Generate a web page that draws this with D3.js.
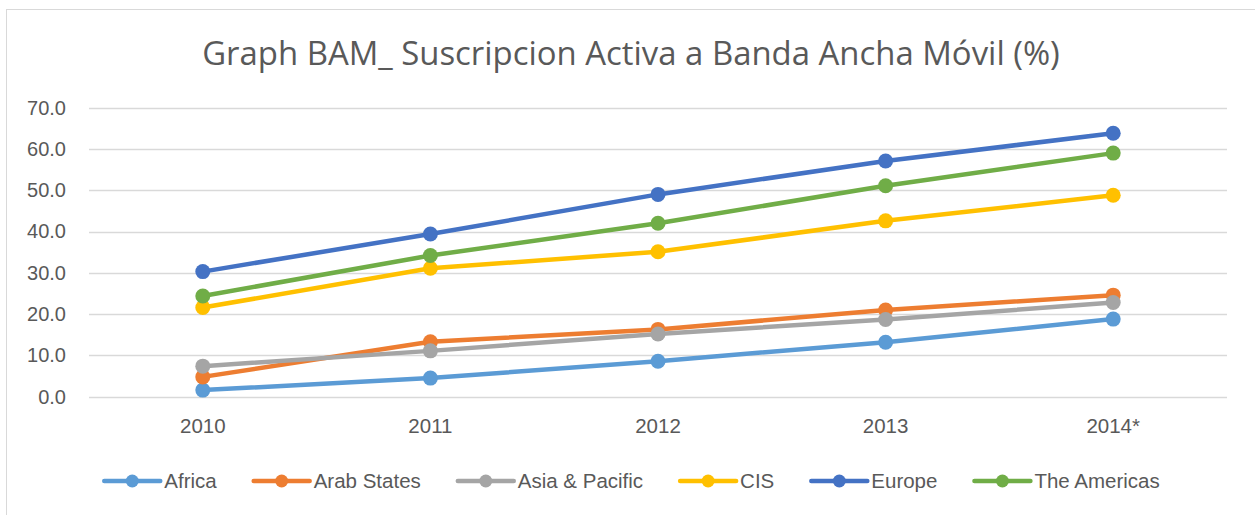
<!DOCTYPE html>
<html><head><meta charset="utf-8">
<script src="https://cdn.jsdelivr.net/npm/d3@7"></script>
<style>html,body{margin:0;padding:0;background:#fff;}svg{display:block;}</style>
</head><body>
<svg id="chart" width="1255" height="515"></svg>
<script>
const title = "Graph BAM_ Suscripcion Activa a Banda Ancha Móvil (%)";
const categories = ["2010", "2011", "2012", "2013", "2014*"];
const yTicks = [0, 10, 20, 30, 40, 50, 60, 70];
const seriesNames = ["Africa", "Arab States", "Asia & Pacific", "CIS", "Europe", "The Americas"];
const seriesColors = ["#5B9BD5", "#ED7D31", "#A5A5A5", "#FFC000", "#4472C4", "#70AD47"];
const africa = [1.6, 4.5, 8.6, 13.2, 18.8];
const arabStates = [4.8, 13.3, 16.3, 21.0, 24.6];
const asiaPacific = [7.4, 11.1, 15.2, 18.7, 22.8];
const cis = [21.6, 31.1, 35.1, 42.6, 48.8];
const europe = [30.3, 39.4, 49.0, 57.1, 63.8];
const americas = [24.4, 34.2, 42.0, 51.1, 59.0];

const seriesValues = [africa, arabStates, asiaPacific, cis, europe, americas];
const series = seriesNames.map((n, i) => ({name: n, color: seriesColors[i], values: seriesValues[i]}));

const svg = d3.select("#chart");
const font = "'Liberation Sans', Arial, sans-serif";
const textColor = "#595959";

// chart border
svg.append("rect").attr("x", 6.5).attr("y", 9.5).attr("width", 1260).attr("height", 520)
  .attr("fill", "#fff").attr("stroke", "#d9d9d9").attr("stroke-width", 1);

// title
const t = svg.append("text").attr("x", 631).attr("y", 65).attr("text-anchor", "middle")
  .attr("font-family", "'Open Sans', sans-serif").attr("font-size", 34).attr("fill", textColor)
  .text(title);
const tl = t.node().getComputedTextLength();
t.attr("font-size", 34 * 858 / tl);

const x = d3.scaleBand().domain(categories).range([89, 1227]);
const y = d3.scaleLinear().domain([0, 70]).range([396.7, 107.7]);

// gridlines
svg.append("g").selectAll("line").data(yTicks).join("line")
  .attr("x1", 89).attr("x2", 1227)
  .attr("y1", d => Math.round(y(d)) + 0.5).attr("y2", d => Math.round(y(d)) + 0.5)
  .attr("stroke", "#d9d9d9").attr("stroke-width", 1.5);

// y axis labels
const yAxis = svg.append("g").attr("transform", "translate(74,0)")
  .call(d3.axisLeft(y).tickValues(yTicks).tickFormat(d3.format(".1f")).tickSize(0).tickPadding(8));
yAxis.select(".domain").remove();
yAxis.selectAll("text").attr("font-family", font).attr("font-size", 20).attr("fill", textColor);

// x axis labels
const xAxis = svg.append("g").attr("transform", "translate(0,406)")
  .call(d3.axisBottom(x).tickSize(0).tickPadding(12));
xAxis.select(".domain").remove();
xAxis.selectAll("text").attr("font-family", font).attr("font-size", 20.5).attr("fill", textColor);

const cx = c => x(c) + x.bandwidth() / 2;
const line = d3.line().x((d, i) => cx(categories[i])).y(d => y(d));

series.forEach(s => {
  const g = svg.append("g");
  g.append("path").attr("d", line(s.values)).attr("fill", "none")
    .attr("stroke", s.color).attr("stroke-width", 4.5).attr("stroke-linejoin", "round").attr("stroke-linecap", "round");
  g.selectAll("circle").data(s.values).join("circle")
    .attr("cx", (d, i) => cx(categories[i])).attr("cy", d => y(d)).attr("r", 7.5)
    .attr("fill", s.color);
});

// legend
const legend = svg.append("g");
const lineLen = 56, gap = 4, spacing = 37, ly = 481;
let items = series.map(s => {
  const g = legend.append("g");
  g.append("line").attr("x1", 0).attr("x2", lineLen).attr("y1", ly).attr("y2", ly)
    .attr("stroke", s.color).attr("stroke-width", 4.5).attr("stroke-linecap", "round");
  g.append("circle").attr("cx", lineLen / 2).attr("cy", ly).attr("r", 6.5).attr("fill", s.color);
  const tx = g.append("text").attr("x", lineLen + gap).attr("y", ly + 7).attr("font-family", font)
    .attr("font-size", 20.5).attr("fill", textColor).text(s.name);
  return {g, w: lineLen + gap + tx.node().getComputedTextLength()};
});
const total = d3.sum(items, d => d.w) + spacing * (items.length - 1);
let pos = 632 - total / 2;
items.forEach(it => { it.g.attr("transform", `translate(${pos},0)`); pos += it.w + spacing; });
</script>
</body></html>
